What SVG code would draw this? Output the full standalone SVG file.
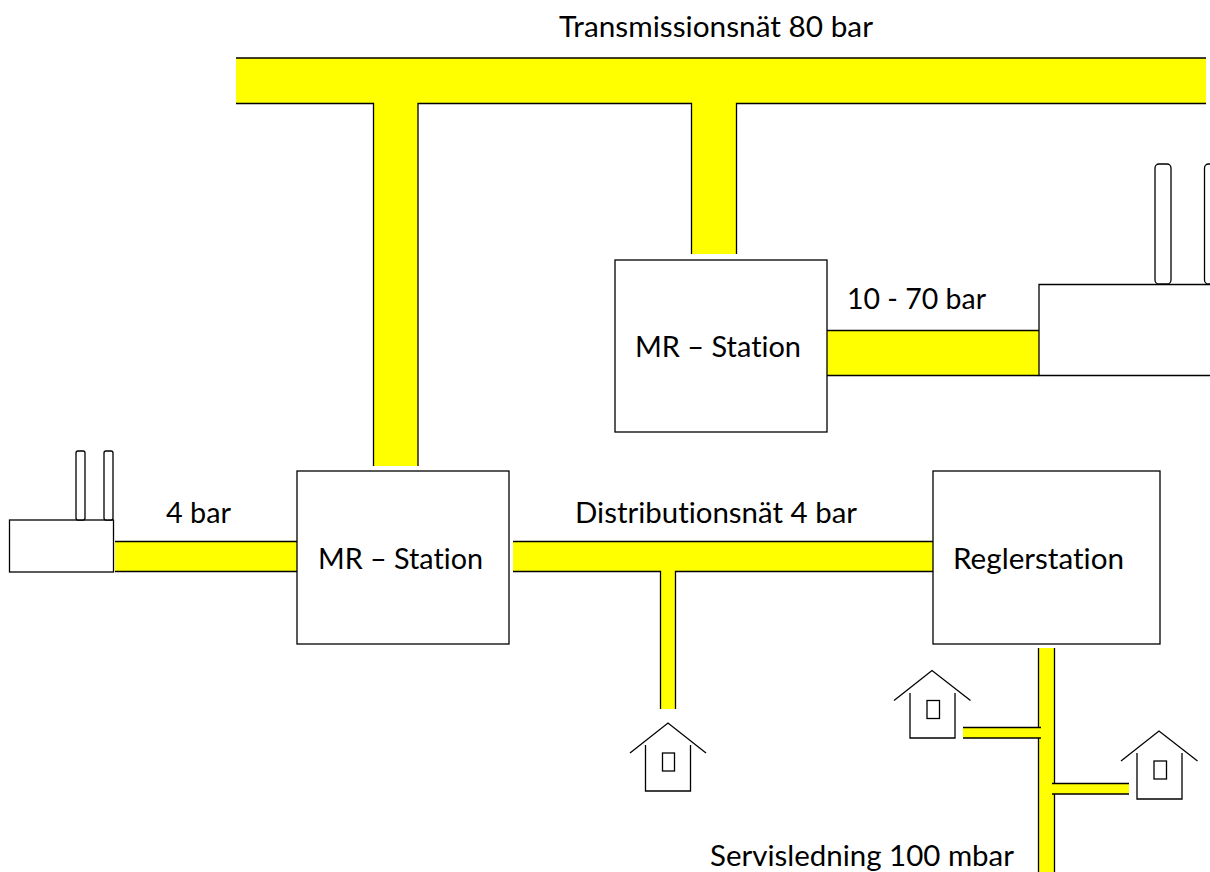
<svg xmlns="http://www.w3.org/2000/svg" width="1210" height="872" viewBox="0 0 1210 872">
<style>
.pipe{fill:#ffff00;stroke:none}
.edge{fill:none;stroke:#000;stroke-width:1.3}
.box{fill:#fff;stroke:#000;stroke-width:1.3}
.ln{fill:none;stroke:#000;stroke-width:1.3}
text{font-family:"Lato","Open Sans","Liberation Sans",sans-serif;font-size:28px;fill:#000;font-variant-ligatures:none}
</style>
<rect width="1210" height="872" fill="#fff"/>
<g id="connectors">
<path class="pipe" d="M236 58H1206V103H736V254H691V103H418V466H373V103H236Z"/>
<path class="edge" d="M236 58H1206M236 103.500H373.500V466M418 466V103.500H691.500V254M736.500 254V103.500H1206"/>
<rect class="pipe" x="827" y="330" width="212" height="45"/>
<path class="edge" d="M827 330.500H1039M827 375.500H1039"/>
<rect class="pipe" x="115" y="542" width="182" height="30"/>
<path class="edge" d="M115 541.500H297M115 571.500H297"/>
<path class="pipe" d="M513 542H933V571H675V709H660V571H513Z"/>
<path class="edge" d="M513 541.500H933M513 571.500H660.500V709M675.500 709V571.500H933"/>
<rect class="pipe" x="1039" y="648" width="15" height="224"/>
<path class="edge" d="M1038.500 648V727.500M1038.500 738V872M1054.500 648V783M1054.500 794V872"/>
<rect class="pipe" x="963" y="728" width="78" height="10"/>
<path class="edge" d="M963 727.500H1041M963 738H1041"/>
<rect class="pipe" x="1052" y="783" width="77" height="11"/>
<path class="edge" d="M1052 783.500H1129M1052 794H1129"/>
</g>
<g id="transmission-label"><text x="559" y="37" textLength="314" lengthAdjust="spacingAndGlyphs">Transmissionsnät 80 bar</text></g>
<g id="mr-station-top">
<rect class="box" x="615" y="260" width="212" height="172"/>
<text x="635" y="357" textLength="166" lengthAdjust="spacingAndGlyphs">MR – Station</text>
</g>
<g id="label-10-70"><text x="847" y="309" textLength="139" lengthAdjust="spacingAndGlyphs">10 - 70 bar</text></g>
<g id="plant-right">
<path class="box" d="M1210 284.500H1039V375.500H1210"/>
<rect class="box" x="1155" y="164" width="16" height="120" rx="4"/>
<rect class="box" x="1204.500" y="164" width="16" height="120" rx="4"/>
</g>
<g id="plant-left">
<rect class="box" x="9.500" y="520" width="104" height="52"/>
<rect class="box" x="76" y="451" width="9" height="69" rx="2"/>
<rect class="box" x="104" y="451" width="9" height="69" rx="2"/>
</g>
<g id="label-4-bar"><text x="166" y="523" textLength="65" lengthAdjust="spacingAndGlyphs">4 bar</text></g>
<g id="mr-station-main">
<rect class="box" x="297" y="471" width="212" height="173"/>
<text x="318" y="569" textLength="165" lengthAdjust="spacingAndGlyphs">MR – Station</text>
</g>
<g id="distribution-label"><text x="575" y="523" textLength="282" lengthAdjust="spacingAndGlyphs">Distributionsnät 4 bar</text></g>
<g id="reglerstation">
<rect class="box" x="933" y="471" width="227" height="173"/>
<text x="953" y="569" textLength="171" lengthAdjust="spacingAndGlyphs">Reglerstation</text>
</g>
<g id="house-center">
<path class="ln" d="M630 753L668 723L706 753M645.500 745V791H690.500V745"/>
<rect class="ln" x="662.500" y="753" width="12" height="18"/>
</g>
<g id="house-left">
<path class="ln" d="M894 700.500L932 670.500L970.500 700.500M910 693V738H955V693"/>
<rect class="ln" x="927" y="700.500" width="12.500" height="18"/>
</g>
<g id="house-right">
<path class="ln" d="M1121 761L1159 731L1197.500 761M1137 753V799H1182V753"/>
<rect class="ln" x="1154" y="761" width="12.500" height="18"/>
</g>
<g id="service-label"><text x="710" y="866" textLength="304" lengthAdjust="spacingAndGlyphs">Servisledning 100 mbar</text></g>
</svg>
